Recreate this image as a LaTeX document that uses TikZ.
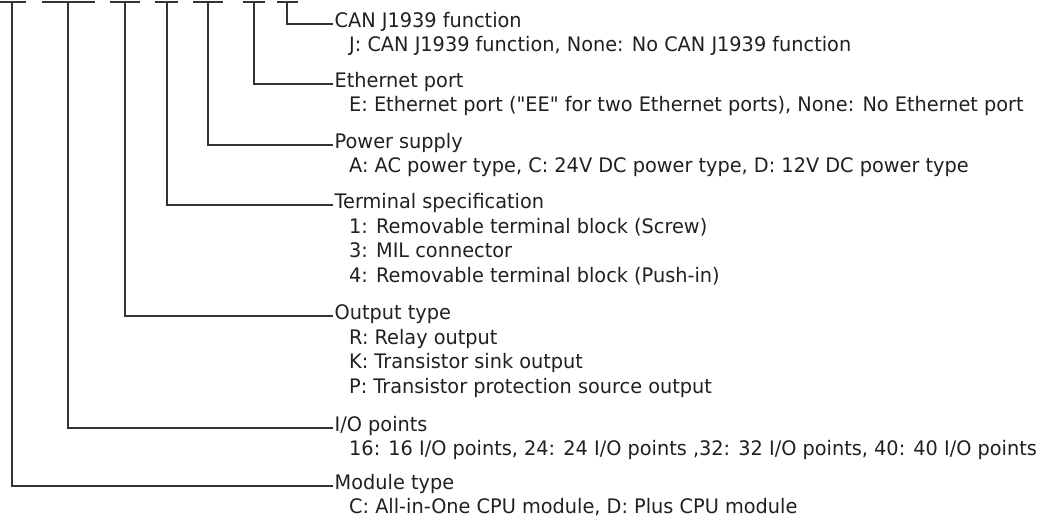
\documentclass[tikz,border=0pt]{standalone}
\usepackage{fontspec}
\setmainfont[FakeStretch=0.965,Ligatures=TeXReset]{DejaVu Sans}
\definecolor{ink}{HTML}{231F20}
\definecolor{wire}{HTML}{333333}
\tikzset{
  lbl/.style={anchor=west, inner xsep=1.5pt, inner ysep=0pt, text height=0.73em, text depth=0pt,
    text=ink, font=\fontsize{20}{24}\selectfont},
  sublbl/.style={lbl, inner xsep=0pt},
  wirestyle/.style={draw=wire, line width=1.3pt},
  capbar/.style={draw=wire, line width=1.3pt}
}
\begin{document}
\begin{tikzpicture}[x=1pt,y=-1pt]
\useasboundingbox (0,0) rectangle (1052,521);
% top bars
\foreach \a/\b in {-2/26, 42/95, 110/140, 155/178, 193/223, 243/265, 277/298}
  \draw[capbar] (\a,2) -- (\b,2);
% top coordinates
\coordinate (tModule) at (12,2);
\coordinate (tIO) at (68,2);
\coordinate (tOut) at (125,2);
\coordinate (tTerm) at (167,2);
\coordinate (tPow) at (208,2);
\coordinate (tEth) at (254,2);
\coordinate (tCAN) at (287,2);
% headings
\node[lbl] (hCAN) at (333,24) {CAN J1939 function};
\node[sublbl] (sCAN) at (349,48) {J: CAN J1939 function, None: No CAN J1939 function};
\node[lbl] (hEth) at (333,84) {Ethernet port};
\node[sublbl] (sEth) at (349,108) {E: Ethernet port ("EE" for two Ethernet ports), None: No Ethernet port};
\node[lbl] (hPow) at (333,145) {Power supply};
\node[sublbl] (sPow) at (349,169) {A: AC power type, C: 24V DC power type, D: 12V DC power type};
\node[lbl] (hTerm) at (333,205) {Terminal specification};
\node[sublbl] (sTerm1) at (349,229.5) {1: Removable terminal block (Screw)};
\node[sublbl] (sTerm3) at (349,254) {3: MIL connector};
\node[sublbl] (sTerm4) at (349,278.5) {4: Removable terminal block (Push-in)};
\node[lbl] (hOut) at (333,316) {Output type};
\node[sublbl] (sOutR) at (349,340.5) {R: Relay output};
\node[sublbl] (sOutK) at (349,365) {K: Transistor sink output};
\node[sublbl] (sOutP) at (349,389.5) {P: Transistor protection source output};
\node[lbl] (hIO) at (333,428) {I/O points};
\node[sublbl] (sIO) at (349,452) {16: 16 I/O points, 24: 24 I/O points ,32: 32 I/O points, 40: 40 I/O points};
\node[lbl] (hMod) at (333,486) {Module type};
\node[sublbl] (sMod) at (349,510) {C: All-in-One CPU module, D: Plus CPU module};
% connectors
\draw[wirestyle] (tCAN) |- (hCAN.west);
\draw[wirestyle] (tEth) |- (hEth.west);
\draw[wirestyle] (tPow) |- (hPow.west);
\draw[wirestyle] (tTerm) |- (hTerm.west);
\draw[wirestyle] (tOut) |- (hOut.west);
\draw[wirestyle] (tIO) |- (hIO.west);
\draw[wirestyle] (tModule) |- (hMod.west);
\end{tikzpicture}
\end{document}
